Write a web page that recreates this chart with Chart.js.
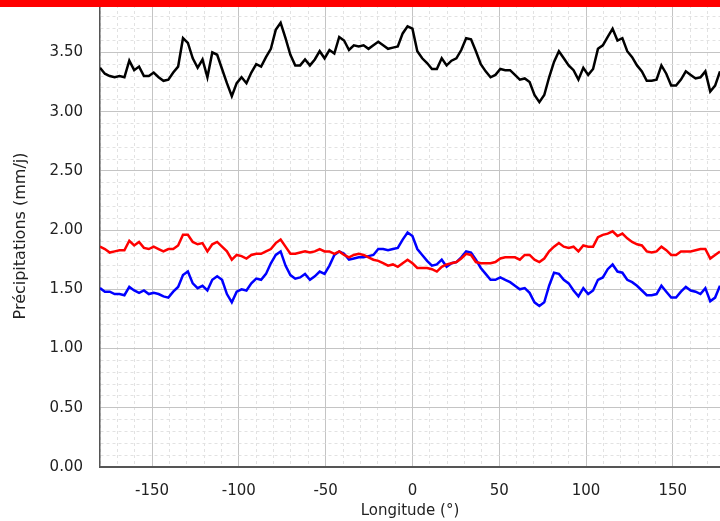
<!DOCTYPE html>
<html>
<head>
<meta charset="utf-8">
<script src="https://cdn.jsdelivr.net/npm/chart.js@4"></script>
<style>
  body { margin: 0; background: #fff; }
  #wrap { position: relative; width: 720px; height: 521px; }
  #band { position: absolute; left: 0; top: 0; width: 720px; height: 7px; background: #ff0000; }
</style>
</head>
<body>
<div id="wrap">
  <canvas id="precip" width="720" height="521"></canvas>
  <div id="band"></div>
</div>
<script>
// grille T42 : 128 longitudes de -180 a 177.1875
var lonStart = -180;
var lonStep = 2.8125;
var longitudes = [];
for (var i = 0; i < 128; i++) longitudes.push(lonStart + i * lonStep);

var precipNoir = [
    3.37, 3.32, 3.30, 3.29, 3.30, 3.29, 3.43, 3.35, 3.38, 3.30, 3.30, 3.33, 3.29, 3.26, 3.27, 3.33,
    3.38, 3.62, 3.58, 3.45, 3.37, 3.44, 3.29, 3.50, 3.48, 3.36, 3.24, 3.13, 3.24, 3.29, 3.24, 3.33,
    3.40, 3.38, 3.46, 3.53, 3.69, 3.75, 3.62, 3.48, 3.39, 3.39, 3.44, 3.39, 3.44, 3.51, 3.45, 3.52,
    3.49, 3.63, 3.60, 3.52, 3.56, 3.55, 3.56, 3.53, 3.56, 3.59, 3.56, 3.53, 3.54, 3.55, 3.66, 3.72,
    3.70, 3.51, 3.45, 3.41, 3.36, 3.36, 3.45, 3.39, 3.43, 3.45, 3.52, 3.62, 3.61, 3.51, 3.40, 3.34,
    3.29, 3.31, 3.36, 3.35, 3.35, 3.31, 3.27, 3.28, 3.25, 3.14, 3.08, 3.14, 3.29, 3.42, 3.51, 3.45,
    3.39, 3.35, 3.27, 3.37, 3.31, 3.36, 3.53, 3.56, 3.63, 3.70, 3.60, 3.62, 3.51, 3.46, 3.39, 3.34,
    3.26, 3.26, 3.27, 3.39, 3.32, 3.22, 3.22, 3.27, 3.34, 3.31, 3.28, 3.29, 3.34, 3.17, 3.22, 3.34
];
var precipRouge = [
    1.86, 1.84, 1.81, 1.82, 1.83, 1.83, 1.91, 1.87, 1.90, 1.85, 1.84, 1.86, 1.84, 1.82, 1.84, 1.84,
    1.87, 1.96, 1.96, 1.90, 1.88, 1.89, 1.82, 1.88, 1.90, 1.86, 1.82, 1.75, 1.79, 1.78, 1.76, 1.79,
    1.80, 1.80, 1.82, 1.84, 1.89, 1.92, 1.86, 1.80, 1.80, 1.81, 1.82, 1.81, 1.82, 1.84, 1.82, 1.82,
    1.80, 1.82, 1.79, 1.77, 1.79, 1.80, 1.79, 1.77, 1.75, 1.74, 1.72, 1.70, 1.71, 1.69, 1.72, 1.75,
    1.72, 1.68, 1.68, 1.68, 1.67, 1.65, 1.69, 1.71, 1.72, 1.73, 1.76, 1.80, 1.79, 1.73, 1.72, 1.72,
    1.72, 1.73, 1.76, 1.77, 1.77, 1.77, 1.75, 1.79, 1.79, 1.75, 1.73, 1.76, 1.82, 1.86, 1.89, 1.86,
    1.85, 1.86, 1.82, 1.87, 1.86, 1.86, 1.94, 1.96, 1.97, 1.99, 1.95, 1.97, 1.93, 1.90, 1.88, 1.87,
    1.82, 1.81, 1.82, 1.86, 1.83, 1.79, 1.79, 1.82, 1.82, 1.82, 1.83, 1.84, 1.84, 1.76, 1.79, 1.82
];
var precipBleu = [
    1.51, 1.48, 1.48, 1.46, 1.46, 1.45, 1.52, 1.49, 1.47, 1.49, 1.46, 1.47, 1.46, 1.44, 1.43, 1.48,
    1.52, 1.62, 1.65, 1.55, 1.51, 1.53, 1.49, 1.58, 1.61, 1.58, 1.46, 1.39, 1.48, 1.50, 1.49, 1.55,
    1.59, 1.58, 1.63, 1.72, 1.79, 1.82, 1.70, 1.62, 1.59, 1.60, 1.63, 1.58, 1.61, 1.65, 1.63, 1.70,
    1.79, 1.82, 1.80, 1.75, 1.76, 1.77, 1.77, 1.78, 1.79, 1.84, 1.84, 1.83, 1.84, 1.85, 1.92, 1.98,
    1.95, 1.84, 1.79, 1.74, 1.70, 1.71, 1.75, 1.69, 1.72, 1.73, 1.77, 1.82, 1.81, 1.75, 1.68, 1.63,
    1.58, 1.58, 1.60, 1.58, 1.56, 1.53, 1.50, 1.51, 1.47, 1.39, 1.36, 1.39, 1.53, 1.64, 1.63, 1.58,
    1.55, 1.49, 1.44, 1.51, 1.46, 1.49, 1.58, 1.60, 1.67, 1.71, 1.65, 1.64, 1.58, 1.56, 1.53, 1.49,
    1.45, 1.45, 1.46, 1.53, 1.48, 1.43, 1.43, 1.48, 1.52, 1.49, 1.48, 1.46, 1.51, 1.40, 1.43, 1.53
];

function serie(valeurs, couleur) {
    return {
        data: longitudes.map(function(lon, k) { return {x: lon, y: valeurs[k]}; }),
        borderColor: couleur,
        borderWidth: 2.5,
        pointRadius: 0,
        tension: 0,
        fill: false
    };
}

function estMajeur(v, pas) {
    return Math.abs(v / pas - Math.round(v / pas)) < 1e-6;
}

var police = "'DejaVu Sans', sans-serif";

var ctx = document.getElementById('precip').getContext('2d');
var myChart = new Chart(ctx, {
    type: 'line',
    data: {
        datasets: [
            serie(precipNoir, '#000000'),
            serie(precipRouge, '#ff0000'),
            serie(precipBleu, '#0000ff')
        ]
    },
    options: {
        responsive: false,
        animation: false,
        devicePixelRatio: 1,
        layout: { padding: { top: 5, right: 0, bottom: 0, left: 0 } },
        plugins: { legend: { display: false }, tooltip: { enabled: false } },
        scales: {
            x: {
                type: 'linear',
                min: -180,
                max: 177.1875,
                afterFit: function(scale) {
                    scale.height = 54;
                    scale.paddingLeft = 0;
                    scale.paddingRight = 0;
                },
                ticks: {
                    stepSize: 10,
                    includeBounds: false,
                    autoSkip: false,
                    maxRotation: 0,
                    padding: 15,
                    color: '#222',
                    font: { family: police, size: 15 },
                    callback: function(v) { return estMajeur(v, 50) ? String(v) : ''; }
                },
                grid: {
                    drawTicks: false,
                    lineWidth: 1,
                    color: function(c) { return c.tick && estMajeur(c.tick.value, 50) ? '#c4c4c4' : '#e2e2e2'; }
                },
                border: {
                    color: '#555',
                    width: 2,
                    dash: function(c) { return c.tick && !estMajeur(c.tick.value, 50) ? [3, 3] : []; }
                },
                title: {
                    display: true,
                    text: 'Longitude (°)',
                    color: '#222',
                    font: { family: police, size: 15 },
                    padding: { top: 0, bottom: 1 }
                }
            },
            y: {
                min: 0,
                max: 3.9,
                afterFit: function(scale) {
                    scale.width = 100;
                    scale.paddingTop = 0;
                    scale.paddingBottom = 0;
                },
                ticks: {
                    stepSize: 0.1,
                    autoSkip: false,
                    padding: 17,
                    color: '#222',
                    font: { family: police, size: 15 },
                    callback: function(v) { return estMajeur(v, 0.5) ? v.toFixed(2) : ''; }
                },
                grid: {
                    drawTicks: false,
                    lineWidth: 1,
                    color: function(c) { return c.tick && estMajeur(c.tick.value, 0.5) ? '#c4c4c4' : '#e2e2e2'; }
                },
                border: {
                    color: '#555',
                    width: 1.5,
                    dash: function(c) { return c.tick && !estMajeur(c.tick.value, 0.5) ? [3, 3] : []; }
                },
                title: {
                    display: true,
                    text: 'Précipitations (mm/j)',
                    color: '#222',
                    font: { family: police, size: 16 },
                    padding: { top: 11, bottom: 0 }
                }
            }
        }
    }
});
</script>
</body>
</html>
